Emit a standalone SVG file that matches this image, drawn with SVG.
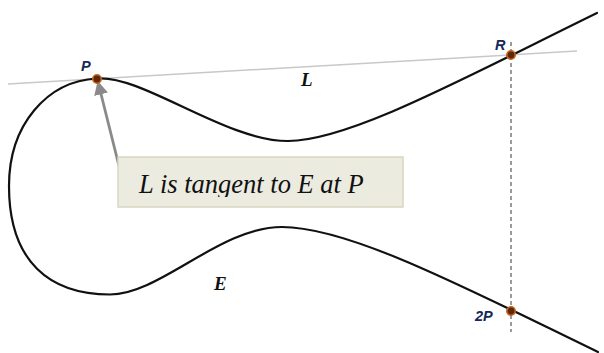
<svg xmlns="http://www.w3.org/2000/svg" width="604" height="353" viewBox="0 0 604 353">
<style>
.curve{fill:none;stroke:#111;stroke-width:2.2;stroke-linejoin:round;stroke-linecap:round}
.tangent{stroke:#c8c8c8;stroke-width:1.5}
.vert{stroke:#7a7a7a;stroke-width:1.5;stroke-dasharray:4 3}
.dot{fill:#5a2a0a;stroke:#c86420;stroke-width:1.6}
.ptlabel{font-family:"Liberation Sans",Arial,sans-serif;font-weight:bold;font-style:italic;font-size:14.5px;fill:#14285a}
.mlabel{font-family:"Liberation Serif","DejaVu Serif",serif;font-weight:bold;font-style:italic;font-size:19px;fill:#111}
.note{font-family:"Liberation Serif","DejaVu Serif",serif;font-style:italic;font-weight:normal;font-size:26.5px;fill:#111}
</style>
<defs>
<marker id="ah" viewBox="0 0 10 10" refX="9" refY="5" markerWidth="5" markerHeight="5" markerUnits="strokeWidth" orient="auto">
<path d="M0,0 L10,5 L0,10 z" fill="#8a8a8a"/>
</marker>
<clipPath id="noteclip"><rect x="118" y="157" width="285" height="40"/></clipPath>
</defs>
<g id="connectors">
<line class="tangent" x1="8" y1="84" x2="577" y2="51"/>
<line class="vert" x1="511" y1="42" x2="511" y2="332"/>
<line x1="119" y1="166" x2="98" y2="82" stroke="#8a8a8a" stroke-width="2.8" marker-end="url(#ah)"/>
</g>
<g id="curve-E">
<path class="curve" d="M597,13 C470,75 350,141 288,141 C225,141 142,74.5 97,78.5 C47,81 9,125 9,186 C9,262 50,294.5 110,294.5 C160,294.5 220,227 282,227 C350,227 470,290 598,352"/>
</g>
<g id="note">
<rect x="118" y="157" width="285" height="50" fill="#ECEBE0" stroke="#D9D6C0" stroke-width="1.5"/>
<text class="note" x="139" y="193" clip-path="url(#noteclip)">L is tangent to E at P</text>
</g>
<g id="point-P">
<circle class="dot" cx="97" cy="79" r="4.2"/>
<text class="ptlabel" x="81" y="71">P</text>
</g>
<g id="point-R">
<circle class="dot" cx="511" cy="55" r="4.2"/>
<text class="ptlabel" x="495" y="50">R</text>
</g>
<g id="point-2P">
<circle class="dot" cx="511" cy="311" r="4.2"/>
<text class="ptlabel" x="475" y="321">2P</text>
</g>
<g id="label-L">
<text class="mlabel" x="301" y="86">L</text>
</g>
<g id="label-E">
<text class="mlabel" x="214" y="290">E</text>
</g>
</svg>
